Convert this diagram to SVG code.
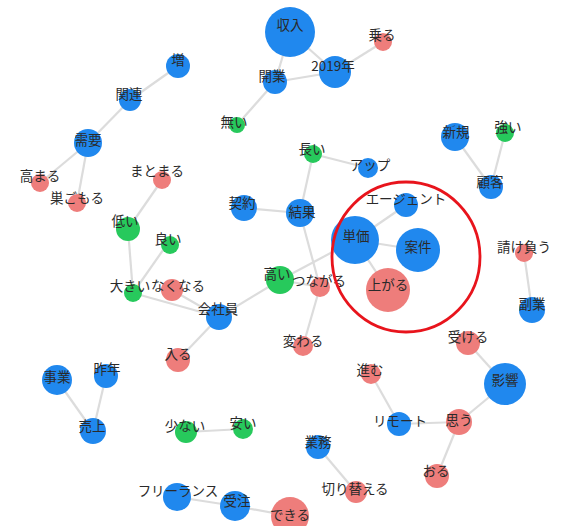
<svg xmlns="http://www.w3.org/2000/svg" width="568" height="526" viewBox="0 0 568 526">
<style>
.e{stroke:#dcdcdc;stroke-width:2.2;fill:none}
.b{fill:#2088ee}
.p{fill:#ee7d7b}
.g{fill:#27c95c}
text{font-family:"Noto Sans CJK JP","Noto Sans",sans-serif;font-size:13.5px;fill:#2a2a2a;text-anchor:middle}
</style>
<rect width="568" height="526" fill="#fff"/>
<g id="edges">
<line class="e" x1="290" y1="32" x2="275" y2="82"/>
<line class="e" x1="290" y1="32" x2="335" y2="72"/>
<line class="e" x1="275" y1="82" x2="335" y2="72"/>
<line class="e" x1="335" y1="72" x2="383" y2="42"/>
<line class="e" x1="275" y1="82" x2="237" y2="125"/>
<line class="e" x1="178" y1="66" x2="130" y2="100"/>
<line class="e" x1="130" y1="100" x2="88" y2="143"/>
<line class="e" x1="88" y1="143" x2="40" y2="183"/>
<line class="e" x1="88" y1="143" x2="77" y2="203"/>
<line class="e" x1="162" y1="180" x2="128" y2="229"/>
<line class="e" x1="128" y1="229" x2="133" y2="293"/>
<line class="e" x1="168" y1="243" x2="133" y2="293"/>
<line class="e" x1="133" y1="293" x2="219" y2="317"/>
<line class="e" x1="172" y1="290" x2="219" y2="317"/>
<line class="e" x1="219" y1="317" x2="280" y2="280"/>
<line class="e" x1="219" y1="317" x2="178" y2="360"/>
<line class="e" x1="280" y1="280" x2="320" y2="287"/>
<line class="e" x1="280" y1="280" x2="355" y2="240"/>
<line class="e" x1="300" y1="213" x2="320" y2="287"/>
<line class="e" x1="320" y1="287" x2="303" y2="346"/>
<line class="e" x1="244" y1="208" x2="300" y2="213"/>
<line class="e" x1="300" y1="213" x2="313" y2="154"/>
<line class="e" x1="313" y1="154" x2="368" y2="168"/>
<line class="e" x1="355" y1="240" x2="406" y2="205"/>
<line class="e" x1="355" y1="240" x2="418" y2="250"/>
<line class="e" x1="355" y1="240" x2="388" y2="290"/>
<line class="e" x1="455" y1="137" x2="491" y2="187"/>
<line class="e" x1="505" y1="133" x2="491" y2="187"/>
<line class="e" x1="524" y1="253" x2="532" y2="310"/>
<line class="e" x1="468" y1="343" x2="505" y2="384"/>
<line class="e" x1="505" y1="384" x2="459" y2="422"/>
<line class="e" x1="459" y1="422" x2="399" y2="424"/>
<line class="e" x1="459" y1="422" x2="437" y2="476"/>
<line class="e" x1="399" y1="424" x2="371" y2="374"/>
<line class="e" x1="318" y1="447" x2="356" y2="492"/>
<line class="e" x1="57" y1="380" x2="93" y2="431"/>
<line class="e" x1="106" y1="376" x2="93" y2="431"/>
<line class="e" x1="186" y1="432" x2="243" y2="429"/>
<line class="e" x1="177" y1="497" x2="235" y2="506"/>
<line class="e" x1="235" y1="506" x2="290" y2="516"/>
</g>
<g id="n-shunyu"><circle class="b" cx="290" cy="32" r="25"/><text x="290" y="30">収入</text></g>
<g id="n-2019"><circle class="b" cx="335" cy="72" r="16"/><text x="333" y="71">2019年</text></g>
<g id="n-noru"><circle class="p" cx="383" cy="42" r="9"/><text x="382" y="40">乗る</text></g>
<g id="n-kaigyo"><circle class="b" cx="275" cy="82" r="12"/><text x="272" y="81">開業</text></g>
<g id="n-nai"><circle class="g" cx="237" cy="125" r="8"/><text x="234" y="127">無い</text></g>
<g id="n-zo"><circle class="b" cx="178" cy="66" r="12"/><text x="178" y="65">増</text></g>
<g id="n-kanren"><circle class="b" cx="130" cy="100" r="11"/><text x="129" y="99">関連</text></g>
<g id="n-juyo"><circle class="b" cx="88" cy="143" r="14"/><text x="88" y="145">需要</text></g>
<g id="n-takamaru"><circle class="p" cx="40" cy="183" r="9"/><text x="40" y="181">高まる</text></g>
<g id="n-sugomoru"><circle class="p" cx="77" cy="203" r="9"/><text x="77" y="203">巣ごもる</text></g>
<g id="n-matomaru"><circle class="p" cx="162" cy="180" r="9"/><text x="157" y="176">まとまる</text></g>
<g id="n-hikui"><circle class="g" cx="128" cy="229" r="12"/><text x="125" y="226">低い</text></g>
<g id="n-yoi"><circle class="g" cx="170" cy="245" r="9"/><text x="168" y="244">良い</text></g>
<g id="n-ookii"><circle class="g" cx="133" cy="293" r="9"/><text x="130" y="291">大きい</text></g>
<g id="n-nakunaru"><circle class="p" cx="172" cy="290" r="11"/><text x="178" y="291">なくなる</text></g>
<g id="n-kaishain"><circle class="b" cx="219" cy="317" r="13"/><text x="218" y="314">会社員</text></g>
<g id="n-hairu"><circle class="p" cx="178" cy="360" r="12"/><text x="178" y="359">入る</text></g>
<g id="n-takai"><circle class="g" cx="280" cy="280" r="14"/><text x="277" y="279">高い</text></g>
<g id="n-tsunagaru"><circle class="p" cx="320" cy="287" r="10"/><text x="319" y="286">つながる</text></g>
<g id="n-kawaru"><circle class="p" cx="303" cy="346" r="10"/><text x="303" y="346">変わる</text></g>
<g id="n-kekka"><circle class="b" cx="300" cy="213" r="14"/><text x="302" y="217">結果</text></g>
<g id="n-keiyaku"><circle class="b" cx="244" cy="208" r="13"/><text x="242" y="208">契約</text></g>
<g id="n-nagai"><circle class="g" cx="313" cy="154" r="9"/><text x="312" y="154">長い</text></g>
<g id="n-up"><circle class="b" cx="368" cy="168" r="10"/><text x="370" y="170">アップ</text></g>
<g id="n-agent"><circle class="b" cx="406" cy="205" r="12"/><text x="406" y="204">エージェント</text></g>
<g id="n-tanka"><circle class="b" cx="355" cy="240" r="24"/><text x="356" y="241">単価</text></g>
<g id="n-anken"><circle class="b" cx="418" cy="250" r="22"/><text x="418" y="252">案件</text></g>
<g id="n-agaru"><circle class="p" cx="388" cy="290" r="22"/><text x="388" y="290">上がる</text></g>
<g id="n-shinki"><circle class="b" cx="455" cy="137" r="14"/><text x="456" y="137">新規</text></g>
<g id="n-tsuyoi"><circle class="g" cx="505" cy="133" r="9"/><text x="508" y="132">強い</text></g>
<g id="n-kokyaku"><circle class="b" cx="491" cy="187" r="12"/><text x="490" y="187">顧客</text></g>
<g id="n-ukeou"><circle class="p" cx="524" cy="253" r="9"/><text x="524" y="252">請け負う</text></g>
<g id="n-fukugyo"><circle class="b" cx="532" cy="310" r="13"/><text x="532" y="309">副業</text></g>
<g id="n-ukeru"><circle class="p" cx="468" cy="343" r="12"/><text x="468" y="342">受ける</text></g>
<g id="n-eikyo"><circle class="b" cx="505" cy="384" r="21"/><text x="505" y="385">影響</text></g>
<g id="n-susumu"><circle class="p" cx="371" cy="374" r="10"/><text x="370" y="375">進む</text></g>
<g id="n-remote"><circle class="b" cx="399" cy="424" r="12"/><text x="400" y="426">リモート</text></g>
<g id="n-omou"><circle class="p" cx="459" cy="422" r="13"/><text x="459" y="425">思う</text></g>
<g id="n-oru"><circle class="p" cx="437" cy="476" r="12"/><text x="436" y="476">おる</text></g>
<g id="n-gyomu"><circle class="b" cx="318" cy="447" r="12"/><text x="318" y="447">業務</text></g>
<g id="n-kirikaeru"><circle class="p" cx="356" cy="492" r="11"/><text x="355" y="494">切り替える</text></g>
<g id="n-jigyo"><circle class="b" cx="57" cy="380" r="15"/><text x="57" y="382">事業</text></g>
<g id="n-sakunen"><circle class="b" cx="106" cy="376" r="12"/><text x="107" y="374">昨年</text></g>
<g id="n-uriage"><circle class="b" cx="93" cy="431" r="13"/><text x="92" y="431">売上</text></g>
<g id="n-sukunai"><circle class="g" cx="186" cy="432" r="11"/><text x="185" y="431">少ない</text></g>
<g id="n-yasui"><circle class="g" cx="243" cy="429" r="10"/><text x="243" y="428">安い</text></g>
<g id="n-freelance"><circle class="b" cx="177" cy="497" r="14"/><text x="178" y="496">フリーランス</text></g>
<g id="n-juchu"><circle class="b" cx="235" cy="506" r="15"/><text x="237" y="506">受注</text></g>
<g id="n-dekiru"><circle class="p" cx="290" cy="516" r="19"/><text x="290" y="520">できる</text></g>
<ellipse cx="406" cy="257" rx="74" ry="75" fill="none" stroke="#e8141c" stroke-width="2.8"/>
</svg>
